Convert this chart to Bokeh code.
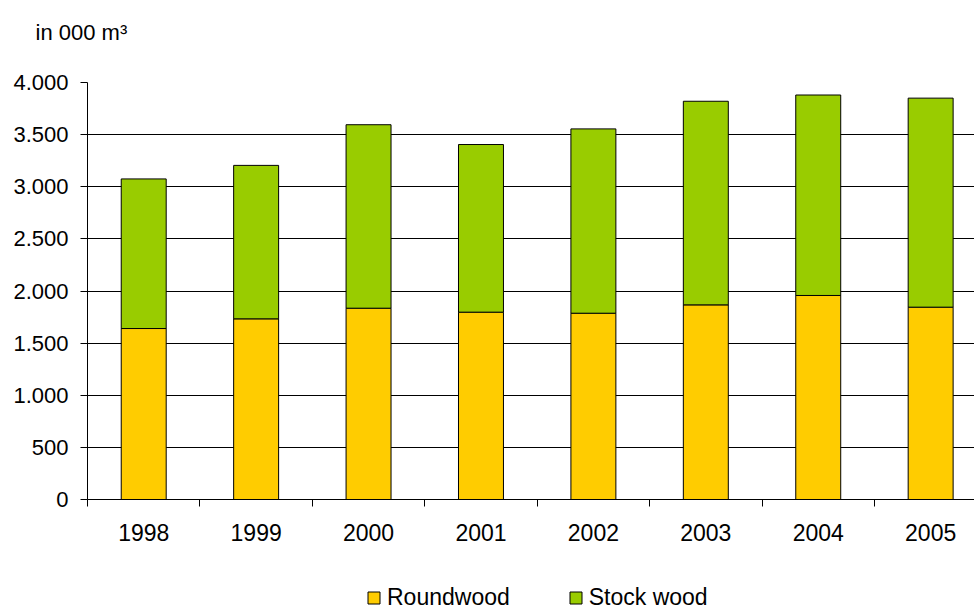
from bokeh.plotting import figure
from bokeh.layouts import column
from bokeh.models import ColumnDataSource, Range1d, FixedTicker, Legend, LegendItem, Title
from bokeh.embed import file_html
from bokeh.resources import INLINE

years = ["1998", "1999", "2000", "2001", "2002", "2003", "2004", "2005"]
roundwood = [1640, 1733, 1835, 1797, 1787, 1867, 1957, 1845]
total = [3075, 3205, 3595, 3405, 3555, 3820, 3880, 3850]
stock_wood = [t - r for t, r in zip(total, roundwood)]
y_ticks = [0, 500, 1000, 1500, 2000, 2500, 3000, 3500, 4000]
series_names = ["Roundwood", "Stock wood"]
series_keys = ["Roundwood", "Stock"]
series_colors = ["#FFCC00", "#99CC00"]

FONT = "Liberation Sans"

xs = [i + 0.5 for i in range(len(years))]
source = ColumnDataSource(dict(x=xs, Roundwood=roundwood, Stock=stock_wood))

p = figure(frame_width=887, frame_height=417, output_backend="svg", toolbar_location=None,
           x_range=Range1d(0, 7.89), y_range=Range1d(0, 4000),
           min_border_left=87, min_border_top=82, min_border_bottom=71, min_border_right=0)
p.outline_line_color = None
p.background_fill_color = "white"
p.border_fill_color = "white"

r = p.vbar_stack(series_keys, x="x", width=0.4, source=source,
                 fill_color=series_colors, line_color="black", line_width=1)

# Grid
p.xgrid.visible = False
p.ygrid.ticker = FixedTicker(ticks=y_ticks)
p.ygrid.grid_line_color = "black"
p.ygrid.grid_line_width = 1

# Y axis
p.yaxis.ticker = FixedTicker(ticks=y_ticks)
p.yaxis.major_label_overrides = {t: (f"{t:,}".replace(",", ".")) for t in y_ticks}
p.yaxis.major_label_text_font = FONT
p.yaxis.major_label_text_font_size = "22px"
p.yaxis.major_label_text_color = "black"
p.yaxis.axis_line_color = "black"
p.yaxis.major_tick_line_color = "black"
p.yaxis.major_tick_out = 7
p.yaxis.major_tick_in = 0
p.yaxis.minor_tick_line_color = None
p.yaxis.major_label_standoff = 12

# X axis
p.xaxis.ticker = FixedTicker(ticks=xs, minor_ticks=list(range(len(years) + 1)))
p.xaxis.major_label_overrides = {x: y for x, y in zip(xs, years)}
p.xaxis.major_label_text_font = FONT
p.xaxis.major_label_text_font_size = "23px"
p.xaxis.major_label_text_color = "black"
p.xaxis.axis_line_color = "black"
p.xaxis.major_tick_line_color = None
p.xaxis.major_tick_out = 0
p.xaxis.major_tick_in = 0
p.xaxis.minor_tick_line_color = "black"
p.xaxis.minor_tick_out = 7
p.xaxis.minor_tick_in = 0
p.xaxis.major_label_standoff = 17

# Unit label as title (trailing blank line lifts it above the frame)
p.add_layout(Title(text="in 000 m\u00b3\n", align="left", offset=-52, standoff=26,
                   text_font=FONT, text_font_size="22px", text_font_style="normal",
                   text_color="black"), "above")

# Legend strip below the chart (hidden proxies of the same series)
p2 = figure(width=974, height=42, output_backend="svg", toolbar_location=None,
            x_range=Range1d(0, 1), y_range=Range1d(0, 1),
            x_axis_type=None, y_axis_type=None,
            min_border_left=0, min_border_right=0, min_border_top=0, min_border_bottom=0)
p2.outline_line_color = None
p2.grid.visible = False
p2.background_fill_color = "white"
p2.border_fill_color = "white"
items = []
for name, key, col in zip(series_names, series_keys, series_colors):
    dr = p2.vbar(x="x", top=key, width=0.4, source=source, fill_color=col,
                 line_color="black", line_width=1, visible=False)
    items.append(LegendItem(label=name, renderers=[dr]))

legend = Legend(items=items, orientation="horizontal", location=(279, 1),
                border_line_color=None, background_fill_alpha=0,
                label_text_font=FONT, label_text_font_size="23px",
                label_text_color="black",
                glyph_width=15, glyph_height=15, label_standoff=6, spacing=58,
                padding=0, margin=0)
p2.add_layout(legend)

layout = column(p, p2, spacing=0)
open("out.html", "w").write(file_html(layout, INLINE))
